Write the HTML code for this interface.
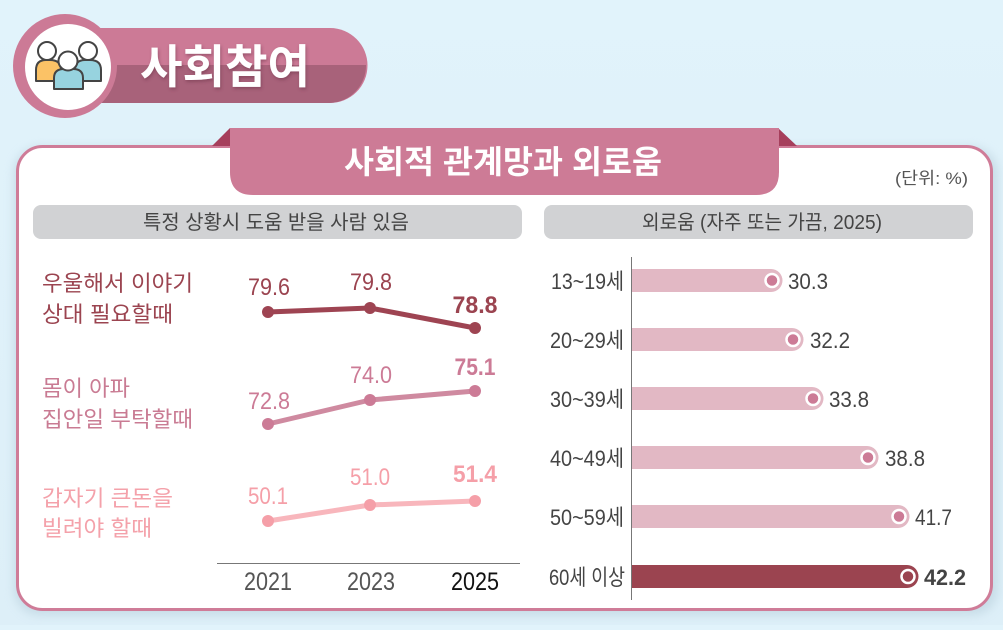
<!DOCTYPE html>
<html><head><meta charset="utf-8">
<style>
html,body{margin:0;padding:0;}
body{width:1003px;height:625px;overflow:hidden;background:linear-gradient(180deg,#e1f3fb 0%,#ddeff8 100%);font-family:"Liberation Sans","Noto Sans CJK KR",sans-serif;}
svg text{font-family:"Liberation Sans","Noto Sans CJK KR",sans-serif;}
</style></head>
<body>
<svg width="1003" height="625" viewBox="0 0 1003 625" xmlns="http://www.w3.org/2000/svg">
<defs>
<filter id="sh" x="-5%" y="-5%" width="110%" height="115%"><feGaussianBlur stdDeviation="5"/></filter>
<filter id="ts" x="-5%" y="-10%" width="110%" height="130%"><feDropShadow dx="1" dy="2" stdDeviation="1.5" flood-color="#6a2e44" flood-opacity="0.5"/></filter>
</defs>
<!-- card shadow -->
<rect x="14" y="147" width="984" height="468" rx="26" fill="#b8cfdb" opacity="0.6" filter="url(#sh)"/>
<!-- card -->
<rect x="17.5" y="146.5" width="974" height="463" rx="25" fill="#fff" stroke="#cf7c98" stroke-width="3"/>
<!-- tab folds -->
<polygon points="212,146 230,128 230,146" fill="#a63f5c"/>
<polygon points="778,128 797,146 778,146" fill="#a63f5c"/>
<!-- tab -->
<path d="M230,128 H779 V172 Q779,195 756,195 H253 Q230,195 230,172 Z" fill="#cd7b96"/>
<text x="503" y="173" text-anchor="middle" font-size="32" font-weight="bold" fill="#fff" textLength="318" lengthAdjust="spacingAndGlyphs">사회적 관계망과 외로움</text>
<text x="968" y="184" text-anchor="end" font-size="17" fill="#555" textLength="73" lengthAdjust="spacingAndGlyphs">(단위: %)</text>

<!-- header pill -->
<path d="M100,28 H330 A37.5,37.5 0 0 1 330,103 H100 Z" fill="#cc7a96"/>
<path d="M100,65 H366 A37.5,37.5 0 0 1 330,103 H100 Z" fill="#a8627a"/>
<text x="140" y="83" font-size="46" font-weight="bold" fill="#fff" filter="url(#ts)" textLength="170" lengthAdjust="spacingAndGlyphs">사회참여</text>
<circle cx="65" cy="66" r="52" fill="#cc7a96"/>
<circle cx="68" cy="67" r="43" fill="#fff"/>
<!-- icon -->
<g stroke="#444" stroke-width="2" stroke-linejoin="round">
<path d="M36,81 L36,70 Q36,60 46,60 L50,60 Q61,60 61,70 L61,81 Z" fill="#fbc266"/>
<circle cx="47" cy="51" r="9" fill="#fff"/>
<path d="M75,81 L75,70 Q75,60 85,60 L90,60 Q101,60 101,70 L101,81 Z" fill="#97d3df"/>
<circle cx="88" cy="51" r="9" fill="#fff"/>
<path d="M54,89 L54,78 Q54,69 64,69 L73,69 Q83,69 83,78 L83,89 Z" fill="#97d3df"/>
<circle cx="68" cy="61" r="9.5" fill="#fff"/>
</g>

<!-- section heads -->
<rect x="33" y="205" width="489" height="34" rx="8" fill="#d1d2d4"/>
<text x="276" y="229" text-anchor="middle" font-size="20" fill="#444" textLength="266" lengthAdjust="spacingAndGlyphs">특정 상황시 도움 받을 사람 있음</text>
<rect x="544" y="205" width="429" height="34" rx="8" fill="#d1d2d4"/>
<text x="762" y="229" text-anchor="middle" font-size="20" fill="#444" textLength="240" lengthAdjust="spacingAndGlyphs">외로움 (자주 또는 가끔, 2025)</text>

<!-- line chart labels -->
<g font-size="22">
<text x="42" y="291" fill="#9b4450" textLength="151" lengthAdjust="spacingAndGlyphs">우울해서 이야기</text>
<text x="42" y="322" fill="#9b4450" textLength="131" lengthAdjust="spacingAndGlyphs">상대 필요할때</text>
<text x="42" y="396" fill="#c97b93" textLength="88" lengthAdjust="spacingAndGlyphs">몸이 아파</text>
<text x="42" y="427" fill="#c97b93" textLength="151" lengthAdjust="spacingAndGlyphs">집안일 부탁할때</text>
<text x="42" y="506" fill="#f4a1aa" textLength="131" lengthAdjust="spacingAndGlyphs">갑자기 큰돈을</text>
<text x="42" y="536" fill="#f4a1aa" textLength="110" lengthAdjust="spacingAndGlyphs">빌려야 할때</text>
</g>

<!-- series -->
<polyline points="268,312 370,308 475,328" fill="none" stroke="#9e4452" stroke-width="5" stroke-linejoin="round"/>
<circle cx="268" cy="312" r="6" fill="#9e4452"/><circle cx="370" cy="308" r="6" fill="#9e4452"/><circle cx="475" cy="328" r="6" fill="#9e4452"/>
<polyline points="268,424 370,400 475,391" fill="none" stroke="#cf8aa0" stroke-width="5" stroke-linejoin="round"/>
<circle cx="268" cy="424" r="6" fill="#cc7b96"/><circle cx="370" cy="400" r="6" fill="#cc7b96"/><circle cx="475" cy="391" r="6" fill="#cc7b96"/>
<polyline points="268,521 370,505 475,501" fill="none" stroke="#f8b6bc" stroke-width="5" stroke-linejoin="round"/>
<circle cx="268" cy="521" r="6" fill="#f59fa8"/><circle cx="370" cy="505" r="6" fill="#f59fa8"/><circle cx="475" cy="501" r="6" fill="#f59fa8"/>

<g font-size="24" text-anchor="middle">
<text x="269" y="295" fill="#9b4450" textLength="42" lengthAdjust="spacingAndGlyphs">79.6</text>
<text x="371" y="290" fill="#9b4450" textLength="42" lengthAdjust="spacingAndGlyphs">79.8</text>
<text x="475" y="313" fill="#9b4450" font-weight="bold" textLength="45" lengthAdjust="spacingAndGlyphs">78.8</text>
<text x="269" y="409" fill="#cc7b96" textLength="42" lengthAdjust="spacingAndGlyphs">72.8</text>
<text x="371" y="383" fill="#cc7b96" textLength="42" lengthAdjust="spacingAndGlyphs">74.0</text>
<text x="475" y="375" fill="#cc7b96" font-weight="bold" textLength="41" lengthAdjust="spacingAndGlyphs">75.1</text>
<text x="268" y="504" fill="#f59fa8" textLength="40" lengthAdjust="spacingAndGlyphs">50.1</text>
<text x="370" y="485" fill="#f59fa8" textLength="40" lengthAdjust="spacingAndGlyphs">51.0</text>
<text x="475" y="482" fill="#f59fa8" font-weight="bold" textLength="44" lengthAdjust="spacingAndGlyphs">51.4</text>
</g>
<line x1="217" y1="563.5" x2="520" y2="563.5" stroke="#777" stroke-width="1"/>
<g font-size="25" text-anchor="middle">
<text x="268" y="590" fill="#555" textLength="48" lengthAdjust="spacingAndGlyphs">2021</text>
<text x="371" y="590" fill="#555" textLength="48" lengthAdjust="spacingAndGlyphs">2023</text>
<text x="475" y="590" fill="#111" textLength="48" lengthAdjust="spacingAndGlyphs">2025</text>
</g>

<!-- bar chart -->
<line x1="631.5" y1="257" x2="631.5" y2="600" stroke="#777" stroke-width="1"/>
<g font-size="22" fill="#444" text-anchor="end">
<text x="624" y="289" textLength="73" lengthAdjust="spacingAndGlyphs">13~19세</text>
<text x="624" y="348" textLength="74" lengthAdjust="spacingAndGlyphs">20~29세</text>
<text x="624" y="407" textLength="74" lengthAdjust="spacingAndGlyphs">30~39세</text>
<text x="624" y="466" textLength="74" lengthAdjust="spacingAndGlyphs">40~49세</text>
<text x="624" y="525" textLength="74" lengthAdjust="spacingAndGlyphs">50~59세</text>
<text x="625" y="585" textLength="76" lengthAdjust="spacingAndGlyphs">60세 이상</text>
</g>
<g fill="#e2b8c4">
<path d="M632,269 H771 A11.5,11.5 0 0 1 771,292 H632 Z"/>
<path d="M632,328 H792 A11.5,11.5 0 0 1 792,351 H632 Z"/>
<path d="M632,387 H812 A11.5,11.5 0 0 1 812,410 H632 Z"/>
<path d="M632,446 H867 A11.5,11.5 0 0 1 867,469 H632 Z"/>
<path d="M632,505 H898 A11.5,11.5 0 0 1 898,528 H632 Z"/>
</g>
<path d="M632,565 H907 A11.5,11.5 0 0 1 907,588 H632 Z" fill="#9b4450"/>
<g fill="#cc7b96" stroke="#fff" stroke-width="2.5">
<circle cx="772" cy="280.5" r="6.5"/>
<circle cx="793" cy="339.5" r="6.5"/>
<circle cx="813" cy="398.5" r="6.5"/>
<circle cx="868" cy="457.5" r="6.5"/>
<circle cx="899" cy="516.5" r="6.5"/>
</g>
<circle cx="908" cy="576.5" r="6.5" fill="#9b4450" stroke="#fff" stroke-width="2.5"/>
<g font-size="22" fill="#444">
<text x="788" y="289" textLength="40" lengthAdjust="spacingAndGlyphs">30.3</text>
<text x="810" y="348" textLength="40" lengthAdjust="spacingAndGlyphs">32.2</text>
<text x="829" y="407" textLength="40" lengthAdjust="spacingAndGlyphs">33.8</text>
<text x="885" y="466" textLength="40" lengthAdjust="spacingAndGlyphs">38.8</text>
<text x="915" y="525" textLength="37" lengthAdjust="spacingAndGlyphs">41.7</text>
<text x="924" y="585" font-weight="bold" textLength="42" lengthAdjust="spacingAndGlyphs">42.2</text>
</g>
</svg>
</body></html>
